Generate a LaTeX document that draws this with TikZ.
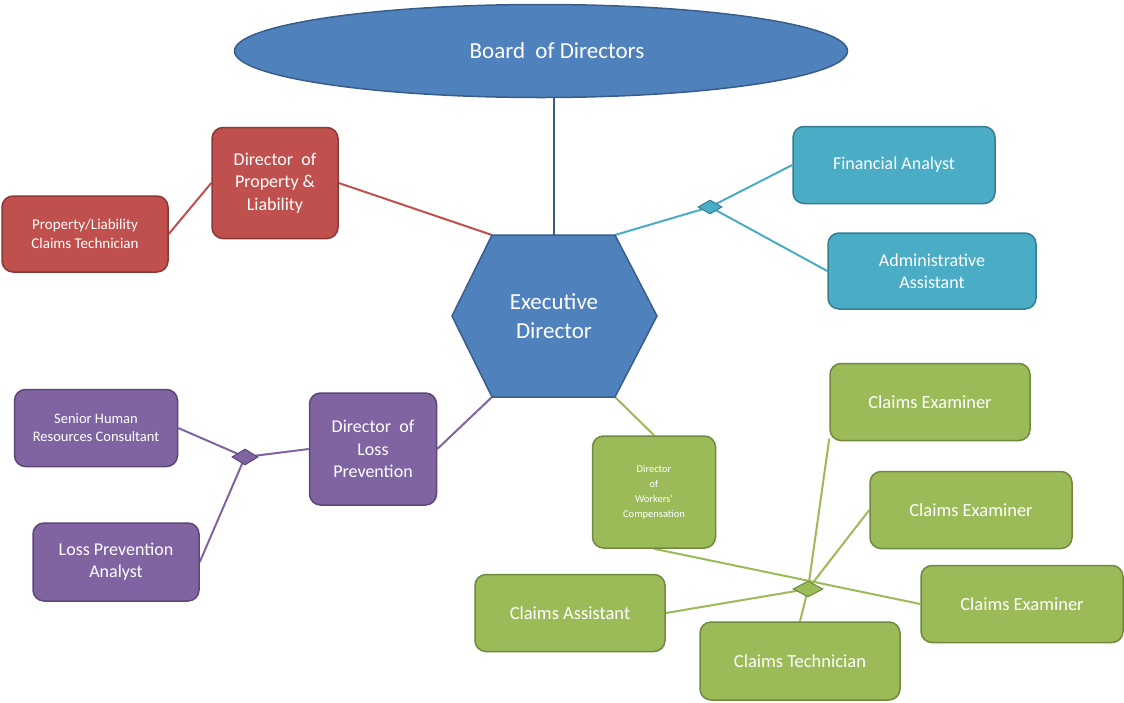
\documentclass[tikz,border=0pt]{standalone}
\usepackage{fontspec}
\setmainfont{Carlito}
\usetikzlibrary{shapes.geometric,backgrounds}
\definecolor{bfill}{HTML}{4F81BD}\definecolor{bline}{HTML}{385D8A}
\definecolor{rfill}{HTML}{C0504D}\definecolor{rline}{HTML}{8C3836}
\definecolor{cfill}{HTML}{4BACC6}\definecolor{cline}{HTML}{357D91}
\definecolor{pfill}{HTML}{8064A2}\definecolor{pline}{HTML}{5C4776}
\definecolor{gfill}{HTML}{9BBB59}\definecolor{gline}{HTML}{71893F}
\tikzset{
  box/.style={rectangle, rounded corners=11pt, line width=1.5pt, text=white, align=center, inner sep=0pt},
  redbox/.style={box, fill=rfill, draw=rline},
  cyanbox/.style={box, fill=cfill, draw=cline},
  purplebox/.style={box, fill=pfill, draw=pline},
  greenbox/.style={box, fill=gfill, draw=gline},
  junction/.style={diamond, inner sep=0pt, line width=1pt},
  conn/.style={line width=2pt},
  fs/.style={font=\fontsize{#1}{\fpeval{#1*1.24}}\selectfont}
}
\begin{document}
\begin{tikzpicture}[x=1pt,y=-1pt]
\useasboundingbox (0,0) rectangle (1124,702);
% Board
\node[ellipse, fill=bfill, draw=bline, line width=1.5pt, minimum width=613, minimum height=93, text=white, fs=23] (bod) at (541,51) {\hspace*{32pt}Board\ \ of Directors};
% Hexagon
\coordinate (hexT) at (554,235);
\coordinate (hexTL) at (492,235);
\coordinate (hexTR) at (615,235);
\coordinate (hexR) at (657,316);
\coordinate (hexBR) at (615,397);
\coordinate (hexBL) at (492,397);
\coordinate (hexL) at (452,316);
\draw[fill=bfill, draw=bline, line width=1.5pt] (hexTL) -- (hexTR) -- (hexR) -- (hexBR) -- (hexBL) -- (hexL) -- cycle;
\node[text=white, align=center, fs=23] (ed) at (554,316) {Executive\\Director};
% Red
\node[redbox, minimum width=126, minimum height=111, fs=18] (dpl) at (275,183) {Director\ \ of\\Property \&\\Liability};
\node[redbox, minimum width=166, minimum height=76, fs=15] (pltech) at (85,234) {Property/Liability\\Claims Technician};
% Cyan
\node[cyanbox, minimum width=202, minimum height=77, fs=18] (fa) at (894,165) {Financial Analyst};
\node[cyanbox, minimum width=208, minimum height=76, fs=18] (aa) at (932,271) {Administrative\\Assistant};
\node[junction, fill=cfill, draw=cline, minimum width=24, minimum height=14] (cd) at (710,207) {};
% Purple
\node[purplebox, minimum width=127, minimum height=112, fs=18] (dlp) at (373,449) {Director\ \ of\\Loss\\Prevention};
\node[purplebox, minimum width=163, minimum height=77, fs=14.5] (shr) at (96,428) {Senior Human\\Resources Consultant};
\node[purplebox, minimum width=166, minimum height=78, fs=18] (lpa) at (116,562) {Loss Prevention\\Analyst};
\node[junction, fill=pfill, draw=pline, minimum width=26, minimum height=16] (pd) at (245,457) {};
% Green
\node[greenbox, minimum width=123, minimum height=112, font=\fontsize{10.5}{15}\selectfont] (dwc) at (654,492) {Director\\of\\Workers'\\Compensation};
\node[greenbox, minimum width=200, minimum height=77, fs=18.5] (ce1) at (930,402) {Claims Examiner};
\node[greenbox, minimum width=202, minimum height=77, fs=18.5] (ce2) at (971,510) {Claims Examiner};
\node[greenbox, minimum width=202, minimum height=77, fs=18.5] (ce3) at (1022,604) {Claims Examiner};
\node[greenbox, minimum width=190, minimum height=77, fs=18.5] (ca) at (570,613) {Claims Assistant};
\node[greenbox, minimum width=200, minimum height=78, fs=18.5] (ct) at (800,661) {Claims Technician};
\node[junction, fill=gfill, draw=gline, minimum width=30, minimum height=16] (gd) at (808,589) {};
% Connectors
\begin{scope}[on background layer]
\draw[conn, bline] (hexT) -- (hexT |- bod.south);
\draw[conn, rfill] (hexTL) -- (dpl.east);
\draw[conn, rfill] (dpl.west) -- (pltech.east);
\draw[conn, cfill] (hexTR) -- (cd.center) -- (fa.west);
\draw[conn, cfill] (cd.center) -- (aa.west);
\draw[conn, pfill] (hexBL) -- (dlp.east);
\draw[conn, pfill] (dlp.west) -- (pd.center) -- (shr.east);
\draw[conn, pfill] (pd.center) -- (lpa.east);
\draw[conn, gfill] (hexBR) -- (dwc.north);
\draw[conn, gfill] (dwc.south) -- (ce3.west);
\draw[conn, gfill] (gd.center) -- (ca.east);
\draw[conn, gfill] (gd.center) -- (ct.north);
\draw[conn, gfill] (gd.center) -- (ce1.200);
\draw[conn, gfill] (gd.center) -- (ce2.west);
\end{scope}
\end{tikzpicture}
\end{document}
